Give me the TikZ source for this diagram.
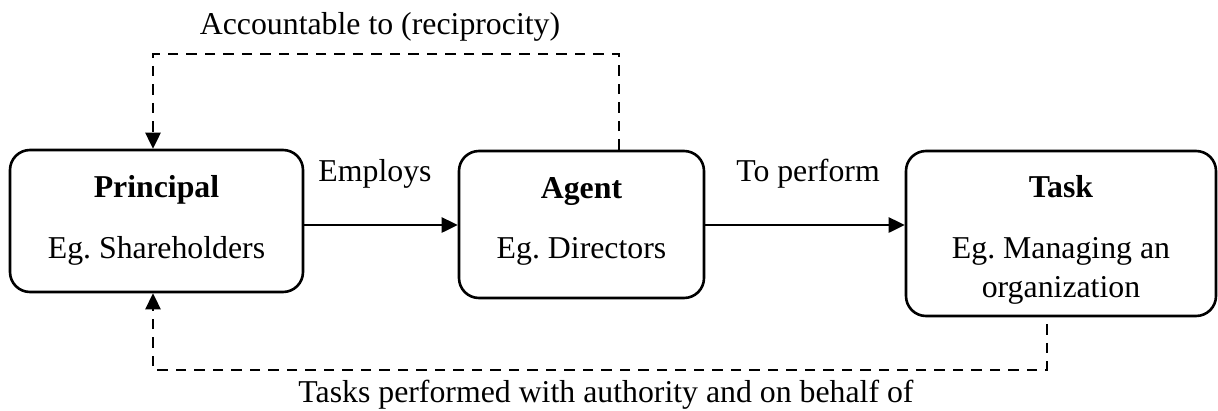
\documentclass[tikz,border=0pt]{standalone}
\usepackage{fontspec}
\setmainfont{Liberation Serif}
\usetikzlibrary{arrows.meta}
\frenchspacing
\begin{document}
\begin{tikzpicture}[x=1pt,y=-1pt,
  box/.style={draw, line width=2.6pt, rounded corners=20pt, inner sep=0pt, minimum width=#1},
  lbl/.style={anchor=base, inner sep=0pt, font=\fontsize{31.8pt}{38pt}\selectfont},
  ttl/.style={lbl, font=\fontsize{31.8pt}{38pt}\selectfont\bfseries},
  conn/.style={line width=2.7pt, -{Triangle[length=16pt,width=15pt]}},
  dconn/.style={conn, dash pattern=on 10.5pt off 8pt}
]
\useasboundingbox (0,0) rectangle (1218,410);
% boxes
\node[box=293pt, minimum height=142pt] (principal) at (156.5,221) {};
\node[box=245pt, minimum height=147pt] (agent) at (581.5,224.5) {};
\node[box=310pt, minimum height=165pt] (task) at (1061,233.5) {};
% box texts
\node[ttl] (ptitle) at (156.5,197) {Principal};
\node[lbl] (ptext) at (156.5,258) {Eg. Shareholders};
\node[ttl] (atitle) at (581.5,198) {Agent};
\node[lbl] (atext) at (581.5,258) {Eg. Directors};
\node[ttl] (ttitle) at (1061,197) {Task};
\node[lbl] (ttext) at (1061,258) {Eg. Managing an};
\node[lbl] (ttext2) at (1061,297) {organization};
% solid arrows
\draw[conn] (principal.east |- 0,225) -- (agent.west |- 0,225);
\draw[conn] (agent.east |- 0,225) -- (task.west |- 0,225);
\node[lbl] (employs) at (375,181) {Employs};
\node[lbl] (perform) at (808,181) {To perform};
% dashed top
\coordinate (tr) at (619,54);
\coordinate (tl) at (153,54);
\draw[dconn] (agent.north -| tr) -- (tr) -- (tl) -- (principal.north -| tl);
\node[lbl] (acc) at (380,34) {Accountable to (reciprocity)};
% dashed bottom
\coordinate (br) at (1047,370);
\coordinate (bl) at (153,370);
\draw[dconn] ([yshift=-7pt]task.south -| br) -- (br) -- (bl) -- (principal.south -| bl);
\node[lbl] (tasks) at (606,402) {Tasks performed with authority and on behalf of};
\end{tikzpicture}
\end{document}
